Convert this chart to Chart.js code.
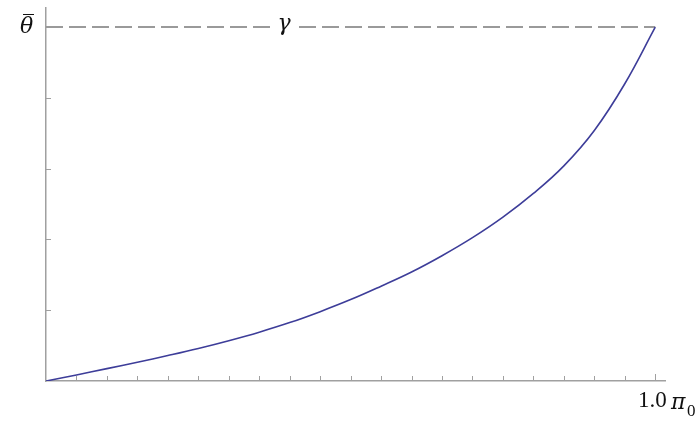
<!DOCTYPE html>
<html>
<head>
<meta charset="utf-8">
<script src="https://cdn.jsdelivr.net/npm/chart.js@4"></script>
<style>
 body { margin: 0; background: #fff; }
 #wrap { position: relative; width: 698px; height: 422px; }
 .lbl {
  position: absolute;
  font-family: "Liberation Serif", "DejaVu Serif", serif;
  line-height: 1;
  color: #111;
  white-space: nowrap;
 }
 .it { font-family: "DejaVu Serif", serif; font-style: italic; }
 #gammaLbl { left: 270px; top: 12px; width: 28px; height: 24px; font-size: 22px; text-align: center; background: #fff; }
 #thetaLbl { left: 20px; top: 15px; font-size: 22px; }
 #thetaBar { position: absolute; left: 23px; top: 14px; width: 11px; height: 1.4px; background: #111; }
 #oneLbl { left: 638px; top: 388px; font-size: 23px; }
 #piLbl { left: 671px; top: 391px; font-size: 22px; }
 #piSub { left: 687px; top: 402px; font-size: 17px; }
</style>
</head>
<body>
<div id="wrap">
 <canvas id="thetaChart"></canvas>
 <div class="lbl it" id="gammaLbl">γ</div>
 <div class="lbl it" id="thetaLbl">θ</div>
 <div id="thetaBar"></div>
 <div class="lbl" id="oneLbl">1.0</div>
 <div class="lbl it" id="piLbl">π</div>
 <div class="lbl" id="piSub">0</div>
</div>
<script>
// curve: theta / theta-bar against pi_0
var piValues = [0, 0.05, 0.1, 0.15, 0.2, 0.25, 0.3, 0.35, 0.4, 0.45, 0.5,
 0.55, 0.6, 0.65, 0.7, 0.75, 0.8, 0.85, 0.9, 0.95, 1.0];
var thetaValues = [0, 0.017, 0.035, 0.053, 0.072, 0.092, 0.114, 0.138, 0.165, 0.196, 0.23,
 0.268, 0.308, 0.354, 0.405, 0.463, 0.53, 0.608, 0.708, 0.84, 1.0];
var gammaLevel = 1.0;
var xTicks = [0.05, 0.1, 0.15, 0.2, 0.25, 0.3, 0.35, 0.4, 0.45, 0.5,
 0.55, 0.6, 0.65, 0.7, 0.75, 0.8, 0.85, 0.9, 0.95, 1.0];
var yTicks = [0.2, 0.4, 0.6, 0.8];

var curvePoints = piValues.map(function (p, i) {
 return { x: p, y: thetaValues[i] };
});

var axisColor = "#a0a0a0";

// ticks point inward, mathematica style
var innerTicks = {
 id: "innerTicks",
 afterDatasetsDraw: function (chart) {
  var ctx = chart.ctx;
  var xs = chart.scales.x;
  var ys = chart.scales.y;
  var y0 = ys.getPixelForValue(0);
  var x0 = xs.getPixelForValue(0);
  ctx.save();
  ctx.strokeStyle = axisColor;
  ctx.lineWidth = 1;
  xTicks.forEach(function (t) {
   var px = Math.round(xs.getPixelForValue(t)) + 0.5;
   var len = t === 1.0 ? 7 : 5;
   ctx.beginPath();
   ctx.moveTo(px, y0);
   ctx.lineTo(px, y0 - len);
   ctx.stroke();
  });
  yTicks.forEach(function (t) {
   var py = Math.round(ys.getPixelForValue(t)) + 0.5;
   ctx.beginPath();
   ctx.moveTo(x0, py);
   ctx.lineTo(x0 + 5, py);
   ctx.stroke();
  });
  ctx.restore();
 },
};

new Chart(document.getElementById("thetaChart"), {
 type: "scatter",
 data: {
  datasets: [
   {
    label: "theta",
    data: curvePoints,
    showLine: true,
    borderColor: "#3d3d99",
    borderWidth: 1.6,
    pointRadius: 0,
    tension: 0.4,
   },
   {
    label: "gamma",
    data: [{ x: 0, y: gammaLevel }, { x: 1.0, y: gammaLevel }],
    showLine: true,
    borderColor: "#9a9a9a",
    borderWidth: 2,
    borderDash: [17, 6],
    pointRadius: 0,
   },
  ],
 },
 options: {
  responsive: true,
  maintainAspectRatio: false,
  animation: false,
  layout: { padding: { left: 46, right: 33, top: 8, bottom: 41 } },
  plugins: { legend: { display: false }, tooltip: { enabled: false } },
  scales: {
   x: {
    type: "linear",
    min: 0,
    max: 1.016,
    ticks: { display: false },
    grid: { display: false, drawTicks: false },
    border: { display: true, color: axisColor, width: 1.5 },
   },
   y: {
    type: "linear",
    min: 0,
    max: 1.054,
    ticks: { display: false },
    grid: { display: false, drawTicks: false },
    border: { display: true, color: axisColor, width: 1.5 },
   },
  },
 },
 plugins: [innerTicks],
});
</script>
</body>
</html>
